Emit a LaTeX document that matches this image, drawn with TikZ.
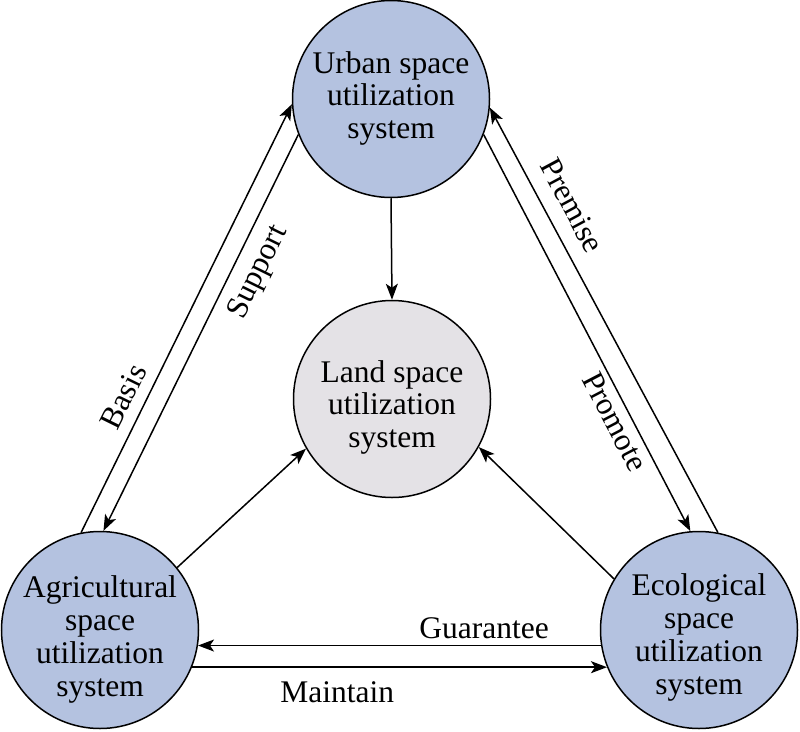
\documentclass[tikz,border=0pt]{standalone}
\usepackage{fontspec}
\setmainfont{Liberation Serif}
\usepackage{xcolor}
\usetikzlibrary{arrows.meta}
\usetikzlibrary{shapes}
\definecolor{bleusysteme}{RGB}{180,194,224}
\definecolor{grissysteme}{RGB}{228,226,230}

\begin{document}
\begin{tikzpicture}[x=1pt,y=-1pt]
% définition des paramètres
\tikzstyle cerclesysteme=[circle,draw=black,line width=1.5pt,inner sep=0pt,minimum size=197pt]
\tikzstyle textesysteme=[align=center,inner sep=0pt,font=\fontsize{31.5}{32.5}\selectfont]
\tikzstyle flechesysteme=[line width=1.5pt,-{Stealth[length=16pt,width=12pt,inset=4pt]}]
\tikzstyle etiquettesysteme=[inner sep=0pt,font=\fontsize{31.5}{31.5}\selectfont]
\useasboundingbox (0,0) rectangle (800,731);
% les cercles
\node[cerclesysteme,fill=bleusysteme] (urbain) at (391,99) {};
\node[cerclesysteme,fill=grissysteme] (terre) at (392,399) {};
\node[cerclesysteme,fill=bleusysteme] (agricole) at (100,630) {};
\node[cerclesysteme,fill=bleusysteme] (ecologique) at (699,630) {};
% les textes des cercles
\node[textesysteme] (urbaintexte) at ([yshift=1pt]urbain.center) {Urban space\\utilization\\system};
\node[textesysteme] (terretexte) at ([yshift=-8pt]terre.center) {Land space\\utilization\\system};
\node[textesysteme,font=\fontsize{31.5}{33}\selectfont] (agricoletexte) at ([yshift=-9pt]agricole.center) {Agricultural\\space\\utilization\\system};
\node[textesysteme,font=\fontsize{31.5}{33}\selectfont] (ecologiquetexte) at ([yshift=-7pt]ecologique.center) {Ecological\\space\\utilization\\system};
% les flèches vers le centre
\draw[flechesysteme] (urbain.south) -- (terre.north);
\draw[flechesysteme] (agricole.39) -- (terre.210);
\draw[flechesysteme] (ecologique.149) -- (terre.331);
% les flèches à gauche
\draw[flechesysteme] (agricole.101) -- node[etiquettesysteme,sloped,above=11pt,pos=0.295] (base) {Basis} (urbain.183);
\draw[flechesysteme] (urbain.201) -- node[etiquettesysteme,sloped,below=11pt,pos=0.32] (soutien) {Support} (agricole.88);
% les flèches à droite
\draw[flechesysteme] (ecologique.79) -- node[etiquettesysteme,sloped,above=15pt,pos=0.74] (premisse) {Premise} (urbain.355);
\draw[flechesysteme] (urbain.339) -- node[etiquettesysteme,sloped,below=5pt,pos=0.705] (promotion) {Promote} (ecologique.95);
% les flèches en bas
\draw[flechesysteme] (ecologique.189) -- node[etiquettesysteme,above=6pt,pos=0.29] (garantie) {Guarantee} (agricole.351);
\draw[flechesysteme] (agricole.338) -- node[etiquettesysteme,below=14pt,pos=0.35] (maintien) {Maintain} (ecologique.202);
\end{tikzpicture}
\end{document}
